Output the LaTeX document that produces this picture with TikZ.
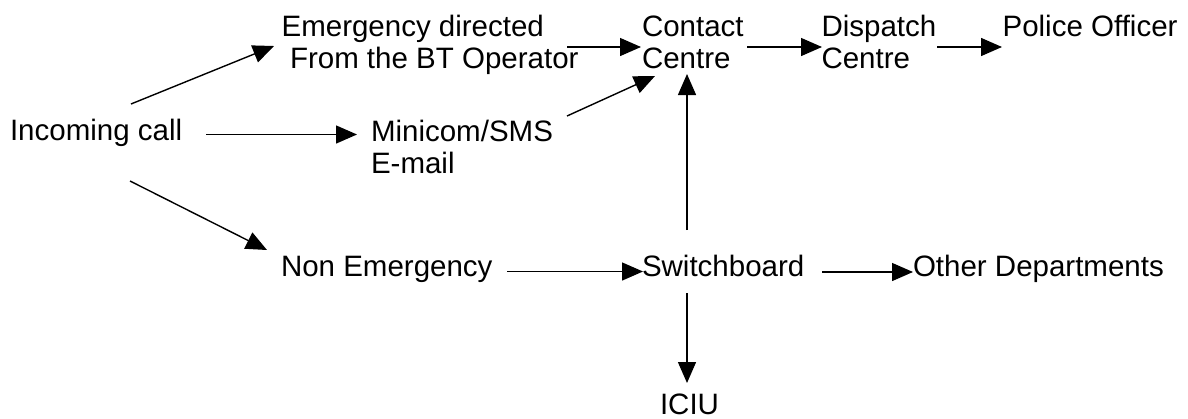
\documentclass[tikz,border=0pt]{standalone}
\usepackage{fontspec}
\setmainfont{Liberation Sans}
\usetikzlibrary{arrows.meta}

\tikzset{
  lbl/.style={anchor=base west, inner sep=0pt, outer sep=0pt, align=left,
    font=\fontsize{29.5}{32.3}\selectfont},
  arr/.style={line width=1.4pt, -{Triangle[length=21pt,width=18pt]}}
}

\begin{document}
\begin{tikzpicture}[x=1pt,y=-1pt]
  \useasboundingbox[fill=white] (0,0) rectangle (1188,418);

  % labels, placed by the baseline of their last line
  \node[lbl] (inc) at (10,140.7)    {Incoming call};
  \node[lbl] (emg) at (281.6,68.3)  {Emergency directed\\\hspace*{8.4pt}From the BT Operator};
  \node[lbl] (min) at (371,173.3)   {Minicom/SMS\\E-mail};
  \node[lbl] (con) at (642,68.3)    {Contact\\Centre};
  \node[lbl] (dis) at (821.5,68.3)  {Dispatch\\Centre};
  \node[lbl] (pol) at (1002.6,36)   {Police Officer};
  \node[lbl] (non) at (281,276.7)   {Non Emergency};
  \node[lbl] (sw)  at (642,276.7)   {Switchboard};
  \node[lbl] (oth) at (913,276.7)   {Other Departments};
  \node[lbl] (ici) at (660,414)     {ICIU};

  % incoming call branches
  \draw[arr] ([shift={(121,-36.7)}]inc.base west) -- ([shift={(-7.6,-22.3)}]emg.base west);
  \draw[arr] ([shift={(196,-6.2)}]inc.base west)  -- ([shift={(-14,-38.8)}]min.base west);
  \draw[arr] ([shift={(120,40.3)}]inc.base west)  -- ([shift={(-14,-26.7)}]non.base west);

  % emergency chain
  \draw[arr] ([shift={(285.4,-21.3)}]emg.base west) -- ([shift={(-1,-21.3)}]con.base west);
  \draw[arr] ([shift={(105,-21.3)}]con.base west)   -- ([shift={(0.5,-21.3)}]dis.base west);
  \draw[arr] ([shift={(115.5,-21.3)}]dis.base west) -- ([shift={(-0.6,11)}]pol.base west);
  \draw[arr] ([shift={(196,-57.3)}]min.base west)   -- ([shift={(13,7.7)}]con.base west);

  % switchboard routes
  \draw[arr] ([shift={(45,-46.7)}]sw.base west)  -- ([shift={(45,5.7)}]con.base west);
  \draw[arr] ([shift={(226,-5.2)}]non.base west) -- ([shift={(1,-5.2)}]sw.base west);
  \draw[arr] ([shift={(180,-4.7)}]sw.base west)  -- ([shift={(0,-4.7)}]oth.base west);
  \draw[arr] ([shift={(45,16.3)}]sw.base west)   -- ([shift={(27,-31)}]ici.base west);
\end{tikzpicture}
\end{document}
